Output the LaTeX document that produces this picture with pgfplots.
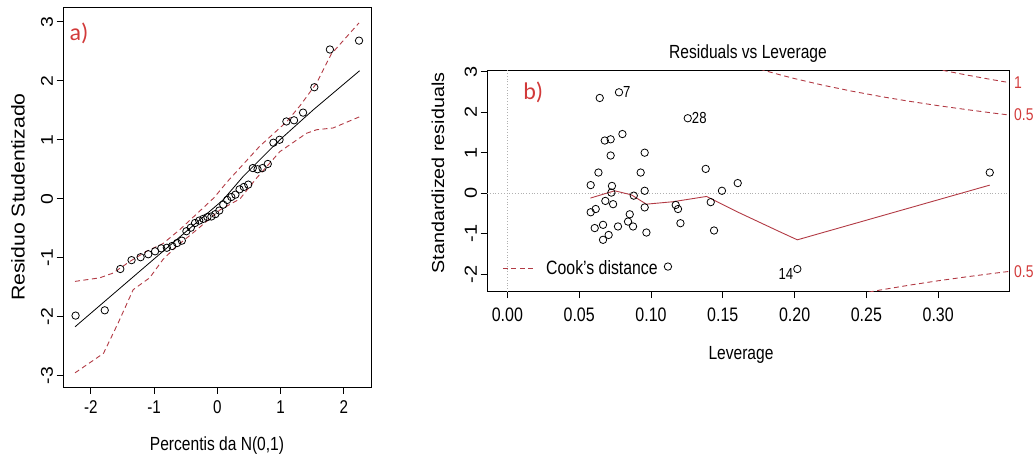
\documentclass[border=0pt]{standalone}
\usepackage{pgfplots}
\pgfplotsset{compat=1.18}
\usepackage{fontspec}
\setmainfont{Liberation Sans}[FakeStretch=0.82]
\newfontfamily\vfont{Liberation Sans}[FakeStretch=1.14]
\newfontfamily\panelfont{Carlito}
\definecolor{envred}{HTML}{B23A44}
\definecolor{tagred}{HTML}{D23A3A}
\definecolor{refgrey}{HTML}{B0B0B0}
\newcommand{\fs}[1]{\fontsize{#1bp}{#1bp}\selectfont}

\pgfplotsset{
  rplot/.style={
    scale only axis,
    anchor=south west,
    axis line style={black, line width=1bp},
    tick align=outside,
    xtick pos=bottom,
    ytick pos=left,
    major tick length=6.5bp,
    tick style={black, line width=0.9bp},
    y tick label style={rotate=90, anchor=south},
  },
  cookdash/.style={envred, line width=0.9bp, dash pattern=on 5bp off 3.5bp},
  circ/.style={only marks, mark=o, mark size=3.7bp, black, mark options={line width=0.8bp}},
}

\begin{document}
\begin{tikzpicture}
\path[use as bounding box] (0,0) rectangle (1033bp,-461bp);

% ---------- a) normal QQ plot ----------
\begin{axis}[rplot,
    at={(63bp,-387bp)},
    width=308bp, height=380bp,
    xmin=-2.44, xmax=2.43, ymin=-3.19, ymax=3.25,
    xtick={-2,-1,0,1,2}, xticklabels={-2,-1,0,1,2},
    ytick={-3,-2,-1,0,1,2,3}, yticklabels={-3,-2,-1,0,1,2,3},
    x tick label style={font=\fs{18.5}},
    y tick label style={font=\vfont\fs{17}},
    xticklabel shift=4bp,
]
\addplot[cookdash] coordinates {
  (-2.25,-1.40) (-1.86,-1.34) (-1.65,-1.26) (-1.38,-1.06) (-1.12,-0.89)
  (-0.86,-0.76) (-0.59,-0.52) (-0.27,-0.20) (-0.05,0.02) (0.15,0.28)
  (0.67,0.89) (1.10,1.31) (1.31,1.58) (1.57,1.96) (1.80,2.45) (2.24,2.98)
};
\addplot[cookdash] coordinates {
  (-2.25,-2.95) (-1.80,-2.62) (-1.57,-2.11) (-1.33,-1.54) (-1.07,-1.34)
  (-0.86,-1.03) (-0.65,-0.81) (-0.33,-0.53) (0.04,-0.19) (0.36,0.00)
  (0.62,0.35) (0.99,0.80) (1.41,1.11) (1.57,1.17) (1.83,1.20) (2.25,1.39)
};
\addplot[black, line width=0.8bp] coordinates {
  (-2.25,-2.17) (-1.00,-1.02) (0.09,-0.02) (0.41,0.38) (0.99,1.00) (1.52,1.51) (2.25,2.17)
};
\addplot[circ] table {
x y
-2.241 -1.98
-1.780 -1.89
-1.534 -1.19
-1.356 -1.04
-1.213 -0.99
-1.092 -0.94
-0.984 -0.89
-0.887 -0.84
-0.798 -0.83
-0.714 -0.80
-0.636 -0.75
-0.561 -0.71
-0.489 -0.55
-0.419 -0.49
-0.352 -0.41
-0.286 -0.37
-0.221 -0.34
-0.157 -0.31
-0.094 -0.30
-0.031 -0.26
0.031 -0.20
0.094 -0.10
0.157 -0.02
0.221 0.03
0.286 0.07
0.352 0.16
0.419 0.20
0.489 0.24
0.561 0.52
0.636 0.50
0.714 0.52
0.798 0.59
0.887 0.95
0.984 1.00
1.092 1.31
1.213 1.33
1.356 1.46
1.534 1.89
1.780 2.53
2.241 2.68
};
\node[font=\panelfont\fs{24}, text=tagred] at (rel axis cs:0.052,0.93) {a)};
\end{axis}

% ---------- b) residuals vs leverage ----------
\begin{axis}[rplot,
    at={(487bp,-291.7bp)},
    width=522bp, height=221.7bp,
    xmin=-0.0142, xmax=0.3493, ymin=-2.43, ymax=3.04,
    xtick={0,0.05,0.1,0.15,0.2,0.25,0.3},
    xticklabels={0.00,0.05,0.10,0.15,0.20,0.25,0.30},
    ytick={-2,-1,0,1,2,3}, yticklabels={-2,-1,0,1,2,3},
    x tick label style={font=\fs{19.5}},
    y tick label style={font=\vfont\fs{17.5}},
    xticklabel shift=6bp,
    legend style={at={(0.029,0.107)}, anchor=west, draw=none, fill=none,
                  font=\fs{19.3}, inner sep=0pt,
                  /tikz/every odd column/.append style={column sep=11bp}},
    legend image code/.code={\draw[#1] (0bp,0bp) -- (30bp,0bp);},
    legend cell align=left,
]
\addplot[refgrey, line width=0.8bp, dotted, forget plot] coordinates {(-0.0142,0) (0.3493,0)};
\addplot[refgrey, line width=0.8bp, dotted, forget plot] coordinates {(0,-2.43) (0,3.04)};
\addplot[cookdash] coordinates {
  (0.170,3.125) (0.175,3.071) (0.180,3.018) (0.190,2.920) (0.200,2.828)
  (0.220,2.663) (0.240,2.517) (0.260,2.386) (0.280,2.268) (0.300,2.160)
  (0.320,2.062) (0.340,1.970) (0.350,1.927)
};
\addlegendentry{Cook's distance}
\addplot[cookdash, forget plot] coordinates {
  (0.280,3.207) (0.290,3.129) (0.300,3.055) (0.310,2.984) (0.320,2.915)
  (0.330,2.850) (0.340,2.787) (0.350,2.726)
};
\addplot[cookdash, forget plot] coordinates {
  (0.240,-2.517) (0.260,-2.386) (0.280,-2.268) (0.300,-2.160)
  (0.320,-2.062) (0.340,-1.970) (0.350,-1.927)
};
\addplot[envred, line width=0.9bp, forget plot] coordinates {
  (0.0578,-0.12) (0.0747,0.06) (0.0863,-0.04) (0.0968,-0.27) (0.1153,-0.21)
  (0.1386,-0.08) (0.1595,-0.45) (0.1896,-0.95) (0.2019,-1.15) (0.3359,0.20)
};
\addplot[circ, forget plot] table {
x y
0.0643 2.35
0.0777 2.49
0.1256 1.85
0.0678 1.30
0.0719 1.33
0.0801 1.46
0.0719 0.93
0.0956 1.00
0.0634 0.51
0.0928 0.51
0.1381 0.60
0.0580 0.20
0.0728 0.18
0.0956 0.06
0.1604 0.25
0.1494 0.06
0.0724 0.015
0.0880 -0.06
0.0682 -0.19
0.0736 -0.27
0.0580 -0.47
0.0615 -0.39
0.0956 -0.35
0.1172 -0.29
0.1188 -0.39
0.1416 -0.22
0.0852 -0.52
0.0840 -0.70
0.0875 -0.82
0.0608 -0.86
0.0666 -0.78
0.0770 -0.82
0.1205 -0.74
0.0968 -0.97
0.1439 -0.92
0.0666 -1.15
0.0705 -1.03
0.1118 -1.81
0.2019 -1.87
0.3359 0.51
};
\node[anchor=west, font=\fs{16}, inner sep=0.5bp, xshift=3.5bp] at (axis cs:0.0777,2.49) {7};
\node[anchor=west, font=\fs{16}, inner sep=0.5bp, xshift=3.5bp] at (axis cs:0.1256,1.85) {28};
\node[anchor=east, font=\fs{16}, inner sep=0.5bp, xshift=-3.5bp, yshift=-5bp] at (axis cs:0.2019,-1.87) {14};
\node[font=\panelfont\fs{24}, text=tagred] at (rel axis cs:0.0885,0.90) {b)};
\end{axis}

% ---------- titles and axis labels ----------
\node[font=\fs{19}] at (217bp,-446bp) {Percentis da N(0,1)};
\node[font=\vfont\fs{18.6}, rotate=90] at (18bp,-197bp) {Residuo Studentizado};
\node[font=\fs{19}] at (748bp,-54bp) {Residuals vs Leverage};
\node[font=\fs{19}] at (741bp,-355bp) {Leverage};
\node[font=\vfont\fs{17.3}, rotate=90] at (438bp,-173bp) {Standardized residuals};
\node[font=\fs{17}, text=tagred, anchor=west, inner sep=0pt] at (1014bp,-83bp) {1};
\node[font=\fs{17}, text=tagred, anchor=west, inner sep=0pt] at (1014bp,-115bp) {0.5};
\node[font=\fs{17}, text=tagred, anchor=west, inner sep=0pt] at (1014bp,-271.5bp) {0.5};
\end{tikzpicture}
\end{document}
